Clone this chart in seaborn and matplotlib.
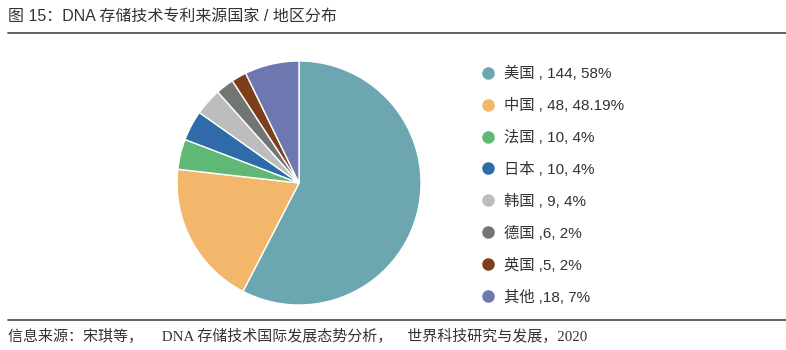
import matplotlib
matplotlib.use("Agg")
import matplotlib.pyplot as plt
from matplotlib.lines import Line2D
import seaborn as sns

# Patent sources by country / region
countries = ["美国", "中国", "法国", "日本", "韩国", "德国", "英国", "其他"]
counts = [144, 48, 10, 10, 9, 6, 5, 18]
legend_labels = [
    "美国 , 144, 58%",
    "中国 , 48, 48.19%",
    "法国 , 10, 4%",
    "日本 , 10, 4%",
    "韩国 , 9, 4%",
    "德国 ,6, 2%",
    "英国 ,5, 2%",
    "其他 ,18, 7%",
]
colors = ["#6ba6b1", "#f3b76b", "#5fb875", "#2f6ba8",
          "#bdbdbd", "#727673", "#7d3e1c", "#6e78b0"]

title = "图 15：DNA 存储技术专利来源国家 / 地区分布"
source = "信息来源：宋琪等，　 DNA 存储技术国际发展态势分析，　世界科技研究与发展，2020"

sns.set_theme(style="white")
plt.rcParams["font.family"] = ["Liberation Sans", "Noto Sans CJK SC"]

W, H = 786, 350
fig = plt.figure(figsize=(W / 100, H / 100), dpi=100)
fig.patch.set_facecolor("white")

# pie axes: centre (299, 183) px, radius ~122 px
cx, cy, r = 299, 183, 122
ax = fig.add_axes([(cx - r) / W, (H - cy - r) / H, 2 * r / W, 2 * r / H])
ax.pie(counts, colors=colors, startangle=90, counterclock=False,
       wedgeprops=dict(edgecolor="white", linewidth=1.0))
ax.set_xlim(-1.0, 1.0)
ax.set_ylim(-1.0, 1.0)
ax.set_aspect("equal")
ax.axis("off")

# legend with round markers
handles = [Line2D([0], [0], marker="o", linestyle="none", markersize=8,
                  markerfacecolor=c, markeredgecolor=c) for c in colors]
fig.legend(handles, legend_labels, loc="upper left",
           bbox_to_anchor=(465 / W, 1 - 52 / H), frameon=False,
           fontsize=11, labelspacing=1.11, handletextpad=0.45,
           labelcolor="#333333", handlelength=1.2)

# header and footer
fig.text(8 / W, 1 - 17 / H, title, fontsize=11.5, color="#333333",
         va="center", ha="left")
fig.add_artist(Line2D([8 / W, 1.0], [1 - 33 / H, 1 - 33 / H],
                      transform=fig.transFigure, color="#555555", linewidth=1.3))
fig.add_artist(Line2D([8 / W, 1.0], [1 - 320 / H, 1 - 320 / H],
                      transform=fig.transFigure, color="#555555", linewidth=1.3))
fig.text(8 / W, 1 - 336 / H, source, fontsize=10.8, color="#333333",
         va="center", ha="left",
         family=["Liberation Serif", "Noto Sans CJK SC"])

fig.savefig("out.png", dpi=100, facecolor="white")
